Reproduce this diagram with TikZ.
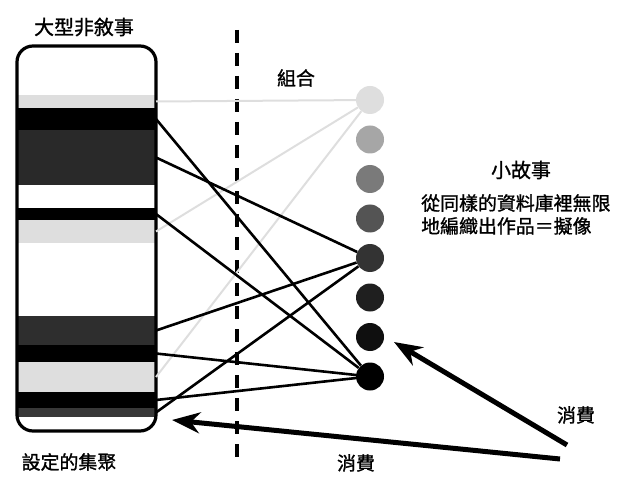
\documentclass[tikz,border=0pt]{standalone}
\usepackage{fontspec}
\newfontfamily\cjk[FakeBold=1.2]{Noto Sans CJK TC}
\usetikzlibrary{arrows.meta}
\tikzset{
  band/.style={fill=#1, minimum width=139bp, inner sep=0pt, outer sep=0pt},
  dot/.style={circle, fill=#1, minimum size=28bp, inner sep=0pt},
  link/.style={line width=2.6bp, black},
  faint/.style={line width=2bp, black!13},
  cjklabel/.style={font=\cjk\fontsize{19}{23}\selectfont, inner sep=0pt},
  consume/.style={line width=5bp, -{Stealth[length=28bp,width=21bp,inset=9bp]}},
}

\begin{document}
\begin{tikzpicture}[x=1bp, y=-1bp]
\useasboundingbox (0,0) rectangle (629,488);

\begin{scope}
\clip[rounded corners=16bp] (17,46) rectangle (156,431);
\foreach \i/\t/\b/\c in {1/95/108/black!13, 2/108/130/black, 3/130/185/black!84,
  4/208/220/black, 5/220/243/black!13, 6/316/345/black!82, 7/345/362/black,
  8/362/392/black!13, 9/392/408/black, 10/408/417/black!78}
  \node[band=\c, minimum height={(\b-\t)*1bp}] (b\i) at (86.5,{(\t+\b)/2}) {};
\end{scope}
\node[draw, line width=3.2bp, rounded corners=16bp, minimum width=139bp,
  minimum height=385bp, inner sep=0pt] (box) at (86.5,238.5) {};

\foreach \i/\c in {1/black!13, 2/black!35, 3/black!52, 4/black!67,
  5/black!80, 6/black!88, 7/black!94, 8/black}
  \node[dot=\c] (c\i) at (370,{100+39.5*(\i-1)}) {};

\coordinate (dtop) at (237,30);
\coordinate (dbot) at (237,464);
\draw[line width=4bp, dash pattern=on 13bp off 10bp] (dtop) -- (dbot);

\foreach \s in {1,5,8}
  \draw[faint] (b\s.east) -- (c1);
\foreach \s/\e in {2/8, 3/5, 4/8, 6/5, 7/8, 9/8, 10/5}
  \draw[link] (b\s.east) -- (c\e);

\node[cjklabel, font=\cjk\fontsize{20}{24}\selectfont] (title) at (84,27) {大型非敘事};
\node[cjklabel] (combine) at (296,78) {組合};
\node[cjklabel] (setting) at (69,462) {設定的集聚};
\node[cjklabel, font=\cjk\fontsize{20}{24}\selectfont] (small) at (521,170) {小故事};
\node[cjklabel, align=left, anchor=north west] (desc) at (421,194)
  {從同樣的資料庫裡無限\\地編織出作品＝擬像};
\node[cjklabel] (use1) at (576,415) {消費};
\node[cjklabel] (use2) at (356,463) {消費};

\coordinate (t1) at (567,445);
\coordinate (h1) at (394,342);
\coordinate (t2) at (560,459);
\coordinate (h2) at (172,420);
\draw[consume] (t1) -- (h1);
\draw[consume] (t2) -- (h2);
\end{tikzpicture}
\end{document}
